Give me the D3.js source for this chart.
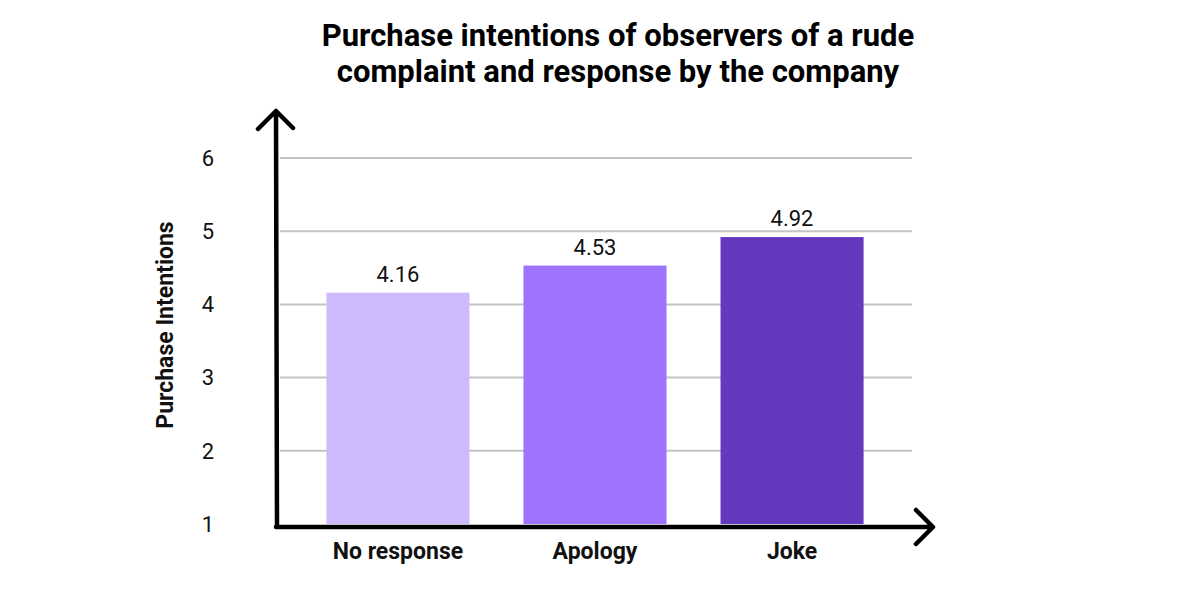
<!DOCTYPE html>
<html>
<head>
<meta charset="utf-8">
<script src="https://cdn.jsdelivr.net/npm/d3@7"></script>
<style>
  body { margin: 0; background: #fff; }
  svg { display: block; font-family: Roboto, "Noto Sans", sans-serif; }
</style>
</head>
<body>
<div id="chart"></div>
<script>
// data
const categories = ['No response', 'Apology', 'Joke'];
const values = [4.16, 4.53, 4.92];
const barColors = ['#cfbafe', '#9e73fe', '#633abd'];
const yTicks = [1, 2, 3, 4, 5, 6];
const titleLines = ['Purchase intentions of observers of a rude', 'complaint and response by the company'];

const width = 1200;
const height = 600;

const svg = d3.select('#chart').append('svg')
  .attr('width', width)
  .attr('height', height);

// scales
const x = d3.scaleBand()
  .domain(categories)
  .range([287, 903])
  .paddingInner(0.274)
  .paddingOuter(0.2);

const y = d3.scaleLinear()
  .domain([1, 6])
  .range([524, 158]);

// gridlines (skip the baseline)
svg.append('g')
  .selectAll('line')
  .data(yTicks.slice(1))
  .join('line')
  .attr('x1', 280)
  .attr('x2', 912)
  .attr('y1', d => y(d))
  .attr('y2', d => y(d))
  .attr('stroke', '#c4c4c4')
  .attr('stroke-width', 2);

// tick labels
svg.append('g')
  .selectAll('text')
  .data(yTicks)
  .join('text')
  .attr('x', 208)
  .attr('y', d => y(d))
  .attr('dy', '0.35em')
  .attr('text-anchor', 'middle')
  .attr('font-size', 22)
  .attr('fill', '#111')
  .text(d => d);

// bars
svg.append('g')
  .selectAll('rect')
  .data(values)
  .join('rect')
  .attr('x', (d, i) => x(categories[i]))
  .attr('width', x.bandwidth())
  .attr('y', d => y(d))
  .attr('height', d => y(1) - y(d))
  .attr('fill', (d, i) => barColors[i]);

// value labels
svg.append('g')
  .selectAll('text')
  .data(values)
  .join('text')
  .attr('x', (d, i) => x(categories[i]) + x.bandwidth() / 2)
  .attr('y', d => y(d) - 11)
  .attr('text-anchor', 'middle')
  .attr('font-size', 22)
  .attr('fill', '#111')
  .text(d => d.toFixed(2));

// category labels
svg.append('g')
  .selectAll('text')
  .data(categories)
  .join('text')
  .attr('x', d => x(d) + x.bandwidth() / 2)
  .attr('y', 559)
  .attr('text-anchor', 'middle')
  .attr('font-size', 23)
  .attr('font-weight', 'bold')
  .attr('fill', '#111')
  .text(d => d);

// axes drawn as arrows
const axes = svg.append('g')
  .attr('fill', 'none')
  .attr('stroke', '#000')
  .attr('stroke-width', 4.5)
  .attr('stroke-linecap', 'round')
  .attr('stroke-linejoin', 'round');

axes.append('path')
  .attr('d', `M277,527 L276,112 M258,129 L276,111 L293,128`);

axes.append('path')
  .attr('d', `M276,527 L932,527 M916,510 L933,527 L916,544`);

// y axis title
svg.append('text')
  .attr('transform', 'translate(173,325) rotate(-90)')
  .attr('text-anchor', 'middle')
  .attr('font-size', 23)
  .attr('font-weight', 'bold')
  .attr('fill', '#111')
  .text('Purchase Intentions');

// chart title
svg.append('g')
  .selectAll('text')
  .data(titleLines)
  .join('text')
  .attr('x', 618)
  .attr('y', (d, i) => 46 + i * 36)
  .attr('text-anchor', 'middle')
  .attr('font-size', 31)
  .attr('font-weight', 'bold')
  .attr('fill', '#000')
  .text(d => d);
</script>
</body>
</html>
